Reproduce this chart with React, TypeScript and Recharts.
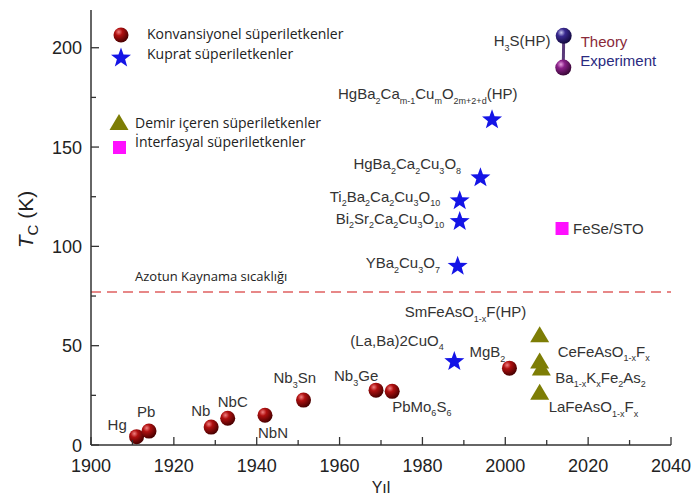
import React from "react";
import { ScatterChart, Scatter, XAxis, YAxis, ReferenceLine, Legend } from "recharts";

// values (year, Tc in K)
const conventional = [
  { name: "Hg", year: 1911, tc: 4.2 },
  { name: "Pb", year: 1914, tc: 7 },
  { name: "Nb", year: 1929, tc: 9 },
  { name: "NbC", year: 1933, tc: 13.5 },
  { name: "NbN", year: 1942, tc: 15 },
  { name: "Nb_{3}Sn", year: 1951.3, tc: 22.6 },
  { name: "Nb_{3}Ge", year: 1968.8, tc: 27.6 },
  { name: "PbMo_{6}S_{6}", year: 1972.7, tc: 27 },
  { name: "MgB_{2}", year: 2001, tc: 38.7 },
];
const cuprates = [
  { name: "(La,Ba)2CuO_{4}", year: 1987.7, tc: 42 },
  { name: "YBa_{2}Cu_{3}O_{7}", year: 1988.5, tc: 90 },
  { name: "Bi_{2}Sr_{2}Ca_{2}Cu_{3}O_{10}", year: 1989, tc: 112.5 },
  { name: "Ti_{2}Ba_{2}Ca_{2}Cu_{3}O_{10}", year: 1989, tc: 123 },
  { name: "HgBa_{2}Ca_{2}Cu_{3}O_{8}", year: 1994, tc: 134.5 },
  { name: "HgBa_{2}Ca_{m-1}Cu_{m}O_{2m+2+d}(HP)", year: 1996.8, tc: 163.7 },
];
const ironBased = [
  { name: "SmFeAsO_{1-x}F(HP)", year: 2008.3, tc: 55.3 },
  { name: "CeFeAsO_{1-x}F_{x}", year: 2008.3, tc: 42 },
  { name: "Ba_{1-x}K_{x}Fe_{2}As_{2}", year: 2008.7, tc: 38.5 },
  { name: "LaFeAsO_{1-x}F_{x}", year: 2008.3, tc: 26.3 },
];
const interfacial = [{ name: "FeSe/STO", year: 2013.7, tc: 109 }];
const hydride = [
  { name: "H_{3}S(HP)", kind: "Theory", year: 2014.1, tc: 206 },
  { name: "", kind: "Experiment", year: 2014, tc: 190 },
];
const nitrogenBoiling = 77;
const nitrogenLabel = "Azotun Kaynama sıcaklığı";

const xTicks = [1900, 1910, 1920, 1930, 1940, 1950, 1960, 1970, 1980, 1990, 2000, 2010, 2020, 2030, 2040];
const yTicks = [0, 25, 50, 75, 100, 125, 150, 175, 200];
const legendNames = [
  "Konvansiyonel süperiletkenler",
  "Kuprat süperiletkenler",
  "Demir içeren süperiletkenler",
  "İnterfasyal süperiletkenler",
];

// label offsets from the marker centre (layout only)
const labelPos: Record<string, [number, number]> = {
  Hg: [-29, -12],
  Pb: [-12, -19],
  Nb: [-20, -16],
  NbC: [-10, -16],
  NbN: [-7, 18],
  "Nb_{3}Sn": [-30, -22],
  "Nb_{3}Ge": [-42, -14],
  "PbMo_{6}S_{6}": [0, 15],
  "MgB_{2}": [-40, -16],
  "(La,Ba)2CuO_{4}": [-104, -21],
  "YBa_{2}Cu_{3}O_{7}": [-92, -3],
  "Bi_{2}Sr_{2}Ca_{2}Cu_{3}O_{10}": [-124, -3],
  "Ti_{2}Ba_{2}Ca_{2}Cu_{3}O_{10}": [-130, -4],
  "HgBa_{2}Ca_{2}Cu_{3}O_{8}": [-127, -14],
  "HgBa_{2}Ca_{m-1}Cu_{m}O_{2m+2+d}(HP)": [-154, -26],
  "SmFeAsO_{1-x}F(HP)": [-135, -23],
  "CeFeAsO_{1-x}F_{x}": [18, -10],
  "Ba_{1-x}K_{x}Fe_{2}As_{2}": [14, 9],
  "LaFeAsO_{1-x}F_{x}": [9, 14],
  "FeSe/STO": [11, 0],
  "H_{3}S(HP)": [-70, 5],
};

const AXIS = "#333";
const LABEL_FONT = "'Liberation Sans', Arial, sans-serif";
const NOTE_FONT = "'Open Sans', sans-serif";

const Formula = ({ x, y, text, size = 15, fill = "#333" }: any) => {
  const parts = text.split(/(_\{[^}]*\})/).filter((p: string) => p !== "");
  const sub = size * 0.3;
  let down = false;
  return (
    <text x={x} y={y + size * 0.35} fontSize={size} fill={fill} fontFamily={LABEL_FONT}>
      {parts.map((p: string, i: number) => {
        if (p.startsWith("_{")) {
          const dy = down ? 0 : sub;
          down = true;
          return (
            <tspan key={i} fontSize={size * 0.6} dy={dy}>
              {p.slice(2, -1)}
            </tspan>
          );
        }
        const dy = down ? -sub : 0;
        down = false;
        return (
          <tspan key={i} dy={dy}>
            {p}
          </tspan>
        );
      })}
    </text>
  );
};

const PointLabel = ({ cx, cy, name }: any) => {
  const pos = labelPos[name];
  if (!pos) return null;
  return <Formula x={cx + pos[0]} y={cy + pos[1]} text={name} />;
};

const sphereDefs = (
  <defs>
    <radialGradient id="sphRed" cx="35%" cy="30%" r="70%">
      <stop offset="0%" stopColor="#f08080" />
      <stop offset="35%" stopColor="#b01010" />
      <stop offset="100%" stopColor="#4a0000" />
    </radialGradient>
    <radialGradient id="sphBlue" cx="35%" cy="30%" r="70%">
      <stop offset="0%" stopColor="#c8c8f0" />
      <stop offset="35%" stopColor="#3a2a90" />
      <stop offset="100%" stopColor="#140a40" />
    </radialGradient>
    <radialGradient id="sphPurple" cx="35%" cy="30%" r="70%">
      <stop offset="0%" stopColor="#e8a0e0" />
      <stop offset="35%" stopColor="#8a2088" />
      <stop offset="100%" stopColor="#3a0838" />
    </radialGradient>
  </defs>
);

const starPath = (cx: number, cy: number, R: number, r: number) => {
  const pts: string[] = [];
  for (let i = 0; i < 10; i++) {
    const a = -Math.PI / 2 + (i * Math.PI) / 5;
    const rad = i % 2 === 0 ? R : r;
    pts.push(`${cx + rad * Math.cos(a)},${cy + rad * Math.sin(a)}`);
  }
  return `M${pts.join("L")}Z`;
};

const Sphere = ({ cx, cy, r = 7.5, fill = "url(#sphRed)" }: any) => (
  <g>
    {sphereDefs}
    <circle cx={cx} cy={cy} r={r} fill={fill} />
  </g>
);
const Star = ({ cx, cy }: any) => <path d={starPath(cx, cy, 10.5, 4.3)} fill="#1414e6" />;
const Tri = ({ cx, cy }: any) => (
  <polygon points={`${cx},${cy - 9} ${cx - 9.5},${cy + 7} ${cx + 9.5},${cy + 7}`} fill="#7d7d05" />
);
const Sq = ({ cx, cy }: any) => <rect x={cx - 6.5} y={cy - 6.5} width={13} height={13} fill="#ff10ff" />;

const shapeWith = (Marker: any) => (props: any) => (
  <g>
    <Marker cx={props.cx} cy={props.cy} />
    <PointLabel cx={props.cx} cy={props.cy} name={props.payload.name} />
  </g>
);

const HydrideShape = (props: any) => {
  const { cx, cy, payload } = props;
  const theory = payload.kind === "Theory";
  return (
    <g>
      <Sphere cx={cx} cy={cy} r={8} fill={theory ? "url(#sphBlue)" : "url(#sphPurple)"} />
      {payload.name ? <PointLabel cx={cx} cy={cy} name={payload.name} /> : null}
      <text
        x={cx + 17}
        y={cy + (theory ? 6 : -7) + 5}
        fontSize={15}
        fontFamily={LABEL_FONT}
        fill={theory ? "#8a2a3a" : "#2a2a80"}
      >
        {payload.kind}
      </text>
    </g>
  );
};

const BottomTick = ({ x, y, payload }: any) => {
  const major = payload.value % 20 === 0;
  return (
    <g>
      <line x1={x} x2={x} y1={y} y2={y - (major ? 8 : 5)} stroke={AXIS} strokeWidth={1.3} />
      {major && (
        <text x={x} y={y + 27} textAnchor="middle" fontSize={18} fill="#222" fontFamily={LABEL_FONT}>
          {payload.value}
        </text>
      )}
    </g>
  );
};
const TopTick = ({ x, y, payload }: any) => {
  const major = payload.value % 20 === 0;
  return <line x1={x} x2={x} y1={y} y2={y + (major ? 8 : 5)} stroke={AXIS} strokeWidth={1.3} />;
};
const LeftTick = ({ x, y, payload }: any) => {
  const major = payload.value % 50 === 0;
  return (
    <g>
      <line x1={x} x2={x + (major ? 8 : 5)} y1={y} y2={y} stroke={AXIS} strokeWidth={1.3} />
      {major && (
        <text x={x - 9} y={y + 6.5} textAnchor="end" fontSize={18} fill="#222" fontFamily={LABEL_FONT}>
          {payload.value}
        </text>
      )}
    </g>
  );
};
const RightTick = ({ x, y, payload }: any) => {
  const major = payload.value % 50 === 0;
  return <line x1={x} x2={x - (major ? 8 : 5)} y1={y} y2={y} stroke={AXIS} strokeWidth={1.3} />;
};

const YTitle = ({ viewBox }: any) => {
  const cx = viewBox.x + 33;
  const cy = viewBox.y + viewBox.height / 2 - 8;
  return (
    <text
      x={cx}
      y={cy}
      transform={`rotate(-90, ${cx}, ${cy})`}
      textAnchor="middle"
      fontSize={21}
      fill="#222"
      fontFamily={LABEL_FONT}
    >
      <tspan fontStyle="italic">T</tspan>
      <tspan fontSize={15} dy={5}>
        C
      </tspan>
      <tspan dy={-5}> (K)</tspan>
    </text>
  );
};
const XTitle = ({ viewBox }: any) => (
  <text
    x={viewBox.x + viewBox.width / 2}
    y={viewBox.y + 48}
    textAnchor="middle"
    fontSize={16}
    fill="#222"
    fontFamily={LABEL_FONT}
  >
    Yıl
  </text>
);

const NitrogenLabel = ({ viewBox }: any) => (
  <text x={viewBox.x + 44} y={viewBox.y - 11} fontSize={13} fill="#222" fontFamily={NOTE_FONT}>
    {nitrogenLabel}
  </text>
);

const LegendBox = () => (
  <svg width={694} height={497} style={{ position: "absolute", left: 0, top: 0 }}>
    {sphereDefs}
    <circle cx={121} cy={35} r={7.5} fill="url(#sphRed)" />
    <path d={starPath(121, 58, 10.5, 4.3)} fill="#1414e6" />
    <polygon points="119,114 109.5,130 128.5,130" fill="#7d7d05" />
    <rect x={113} y={141} width={13} height={13} fill="#ff10ff" />
    <g fontFamily={NOTE_FONT} fontSize={14} fill="#222">
      <text x={147} y={39}>{legendNames[0]}</text>
      <text x={147} y={59}>{legendNames[1]}</text>
      <text x={135} y={128}>{legendNames[2]}</text>
      <text x={135} y={147}>{legendNames[3]}</text>
    </g>
  </svg>
);

export default function App() {
  return (
    <div style={{ position: "absolute", left: 0, top: 0, background: "#fff" }}>
      <ScatterChart width={694} height={497} margin={{ top: 10, right: 23, bottom: 0, left: 0 }}>
        <XAxis
          dataKey="year"
          type="number"
          domain={[1900, 2040]}
          ticks={xTicks}
          interval={0}
          height={52}
          tickSize={0}
          tickMargin={0}
          tickLine={false}
          tick={BottomTick}
          stroke={AXIS}
          strokeWidth={1.5}
          label={XTitle}
        />
        <XAxis
          xAxisId="top"
          orientation="top"
          type="number"
          domain={[1900, 2040]}
          ticks={xTicks}
          interval={0}
          height={0}
          tickSize={0}
          tickMargin={0}
          tickLine={false}
          tick={TopTick}
          stroke={AXIS}
          strokeWidth={1.5}
        />
        <YAxis
          dataKey="tc"
          type="number"
          domain={[0, 219]}
          ticks={yTicks}
          interval={0}
          width={91}
          tickSize={0}
          tickMargin={0}
          tickLine={false}
          tick={LeftTick}
          stroke={AXIS}
          strokeWidth={1.5}
          label={YTitle}
        />
        <YAxis
          yAxisId="right"
          orientation="right"
          type="number"
          domain={[0, 219]}
          ticks={yTicks}
          interval={0}
          width={0}
          tickSize={0}
          tickMargin={0}
          tickLine={false}
          tick={RightTick}
          stroke={AXIS}
          strokeWidth={1.5}
        />
        <ReferenceLine
          y={nitrogenBoiling}
          stroke="#e06060"
          strokeWidth={1.5}
          strokeDasharray="10 6"
          label={NitrogenLabel}
        />
        <Scatter data={conventional} shape={shapeWith(Sphere)} isAnimationActive={false} />
        <Scatter data={cuprates} shape={shapeWith(Star)} isAnimationActive={false} />
        <Scatter data={ironBased} shape={shapeWith(Tri)} isAnimationActive={false} />
        <Scatter data={interfacial} shape={shapeWith(Sq)} isAnimationActive={false} />
        <Scatter
          data={hydride}
          shape={HydrideShape}
          line={{ stroke: "#5a3a7a", strokeWidth: 3 }}
          isAnimationActive={false}
        />
        <Legend
          content={LegendBox}
          layout="horizontal"
          verticalAlign="middle"
          align="center"
          wrapperStyle={{ left: 0, top: 0, width: 694, height: 497, pointerEvents: "none" }}
        />
      </ScatterChart>
    </div>
  );
}
